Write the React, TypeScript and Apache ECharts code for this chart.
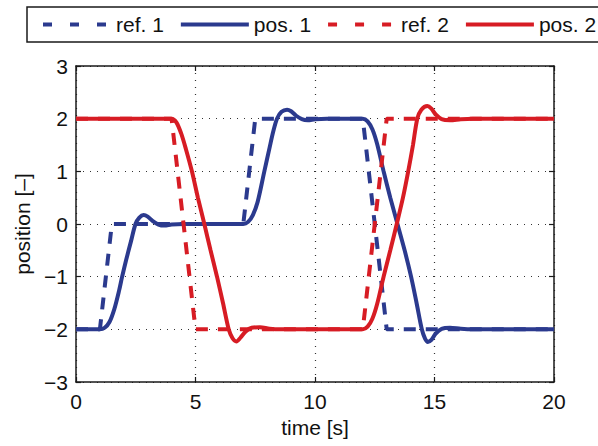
import React, { useEffect, useRef } from "react";
import * as echarts from "echarts";

const seriesNames = ["ref. 1", "pos. 1", "ref. 2", "pos. 2"];

const ref1: [number, number][] = [
  [0, -2], [1.0, -2], [1.5, 0], [7.0, 0], [7.5, 2], [12.0, 2], [13.0, -2], [20, -2],
];

const pos1: [number, number][] = [
  [0, -2], [0.5, -2], [1.0, -2], [1.2, -1.97], [1.4, -1.86], [1.6, -1.62], [1.8, -1.27],
  [1.93, -1.0], [2.1, -0.68], [2.3, -0.33], [2.49, 0.0], [2.65, 0.12], [2.83, 0.17],
  [3.0, 0.14], [3.2, 0.06], [3.45, -0.01], [3.7, -0.03], [4.0, -0.01], [4.5, 0],
  [5.5, 0], [6.5, 0], [7.0, 0], [7.2, 0.04], [7.4, 0.17], [7.6, 0.42], [7.88, 1.0],
  [8.1, 1.45], [8.25, 1.75], [8.41, 2.0], [8.6, 2.13], [8.83, 2.17], [9.0, 2.14],
  [9.2, 2.06], [9.45, 1.99], [9.7, 1.97], [10.0, 1.99], [10.5, 2.0], [11.3, 2.0],
  [12.0, 2.0], [12.2, 1.95], [12.4, 1.8], [12.6, 1.52], [12.87, 1.0], [13.15, 0.5],
  [13.45, 0.0], [13.75, -0.5], [14.02, -1.0], [14.25, -1.5], [14.47, -2.0], [14.6, -2.17],
  [14.72, -2.24], [14.87, -2.2], [15.05, -2.08], [15.3, -1.99], [15.65, -1.97],
  [16.1, -1.99], [16.6, -2.0], [18.0, -2.0], [20, -2.0],
];

const ref2: [number, number][] = [
  [0, 2], [4.0, 2], [5.0, -2], [12.0, -2], [13.0, 2], [20, 2],
];

const pos2: [number, number][] = [
  [0, 2], [1.5, 2], [3.0, 2], [4.0, 2], [4.2, 1.93], [4.4, 1.72], [4.6, 1.42],
  [4.85, 1.0], [5.1, 0.5], [5.37, 0.0], [5.63, -0.5], [5.9, -1.0], [6.15, -1.5],
  [6.39, -2.0], [6.55, -2.17], [6.71, -2.23], [6.88, -2.16], [7.1, -2.04], [7.35, -1.97],
  [7.7, -1.96], [8.1, -1.99], [8.6, -2.0], [10.0, -2.0], [11.3, -2.0], [12.0, -2.0],
  [12.2, -1.95], [12.4, -1.8], [12.6, -1.52], [12.87, -1.0], [13.15, -0.5], [13.42, 0.0],
  [13.68, 0.5], [13.9, 1.0], [14.1, 1.5], [14.28, 2.0], [14.45, 2.17], [14.7, 2.24],
  [14.87, 2.19], [15.05, 2.08], [15.3, 1.99], [15.65, 1.97], [16.1, 1.99], [16.6, 2.0],
  [18.0, 2.0], [20, 2.0],
];

const xTicks = { min: 0, max: 20, interval: 5 };
const yTicks = { min: -3, max: 3, interval: 1 };

const BLUE = "#2b3a8e";
const RED = "#d71c24";
const FONT = "Liberation Sans";

export default function App() {
  const ref = useRef<HTMLDivElement>(null);
  useEffect(() => {
    if (!ref.current) return;
    const chart = echarts.init(ref.current, null, { renderer: "svg" });
    const fmt = (v: number) => String(v).replace("-", "\u2212");
    const axisLine = { show: true, onZero: false, lineStyle: { color: "#1a1a1a", width: 1.5 } };
    const tick = { show: true, inside: true, length: 5, lineStyle: { color: "#1a1a1a", width: 1.2 } };
    const split = { show: true, lineStyle: { color: "#333", width: 1.2, type: [1, 6] as any } };
    const dashed = { width: 4, type: [12, 10] as any, cap: "butt" as const };
    const solid = { width: 4, type: "solid" as const };
    const legendDash = { type: [9, 18] as any, width: 4 };
    const legendSolid = { type: "solid" as const, width: 4 };
    chart.setOption({
      animation: false,
      textStyle: { fontFamily: FONT },
      legend: {
        left: 27,
        top: 7,
        width: 700,
        padding: [7, 14, 7, 14],
        itemWidth: 68,
        itemHeight: 14,
        itemGap: 15,
        borderColor: "#1a1a1a",
        borderWidth: 1.5,
        borderRadius: 0,
        backgroundColor: "#fff",
        itemStyle: { opacity: 0 },
        textStyle: { fontFamily: FONT, fontSize: 21, color: "#111" },
        data: [
          { name: seriesNames[0], lineStyle: legendDash },
          { name: seriesNames[1], lineStyle: legendSolid },
          { name: seriesNames[2], lineStyle: legendDash },
          { name: seriesNames[3], lineStyle: legendSolid },
        ],
      },
      grid: { left: 76, right: 44, top: 66, bottom: 64, containLabel: false },
      xAxis: [
        {
          type: "value",
          ...xTicks,
          position: "bottom",
          name: "time [s]",
          nameLocation: "middle",
          nameGap: 35,
          nameTextStyle: { fontFamily: FONT, fontSize: 21, color: "#111" },
          axisLine,
          axisTick: tick,
          splitLine: split,
          axisLabel: { fontFamily: FONT, fontSize: 21, color: "#111", margin: 9, formatter: fmt },
        },
        {
          type: "value",
          ...xTicks,
          position: "top",
          axisLine,
          axisTick: tick,
          splitLine: { show: false },
          axisLabel: { show: false },
        },
      ],
      yAxis: [
        {
          type: "value",
          ...yTicks,
          position: "left",
          name: "position [\u2013]",
          nameLocation: "middle",
          nameGap: 43,
          nameTextStyle: { fontFamily: FONT, fontSize: 21, color: "#111" },
          axisLine,
          axisTick: tick,
          splitLine: split,
          axisLabel: { fontFamily: FONT, fontSize: 21, color: "#111", margin: 8, formatter: fmt },
        },
        {
          type: "value",
          ...yTicks,
          position: "right",
          axisLine,
          axisTick: tick,
          splitLine: { show: false },
          axisLabel: { show: false },
        },
      ],
      series: [
        { name: seriesNames[0], type: "line", data: ref1, symbol: "none", lineStyle: { ...dashed, color: BLUE }, itemStyle: { color: BLUE } },
        { name: seriesNames[1], type: "line", data: pos1, symbol: "none", smooth: 0.3, lineStyle: { ...solid, color: BLUE }, itemStyle: { color: BLUE } },
        { name: seriesNames[2], type: "line", data: ref2, symbol: "none", lineStyle: { ...dashed, color: RED }, itemStyle: { color: RED } },
        { name: seriesNames[3], type: "line", data: pos2, symbol: "none", smooth: 0.3, lineStyle: { ...solid, color: RED }, itemStyle: { color: RED } },
      ],
    });
    return () => chart.dispose();
  }, []);
  return (
    <div
      ref={ref}
      style={{ position: "fixed", left: 0, top: 0, width: 598, height: 446, background: "#fff" }}
    />
  );
}
